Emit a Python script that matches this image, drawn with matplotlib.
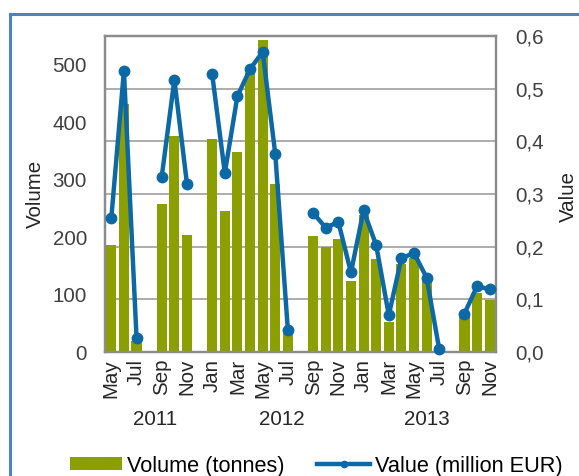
import numpy as np
import matplotlib
matplotlib.use("Agg")
from matplotlib import pyplot as plt
from matplotlib.patches import Rectangle
from matplotlib.ticker import FuncFormatter

plt.rcParams['font.family'] = ['Liberation Sans', 'DejaVu Sans']

months = ["May", "Jun", "Jul", "Aug", "Sep", "Oct", "Nov", "Dec",
          "Jan", "Feb", "Mar", "Apr", "May", "Jun", "Jul", "Aug", "Sep", "Oct", "Nov", "Dec",
          "Jan", "Feb", "Mar", "Apr", "May", "Jun", "Jul", "Aug", "Sep", "Oct", "Nov"]
years = ["2011", "2012", "2013"]
year_start = [0, 8, 20]
year_end = [7, 19, 30]

volume = [186, 432, 20, np.nan, 257, 376, 203, np.nan,
          371, 246, 348, 485, 543, 293, 33, np.nan, 202, 183, 196, 123,
          238, 161, 52, 154, 163, 131, np.nan, np.nan, 64, 102, 91]
value = [0.254, 0.534, 0.027, np.nan, 0.333, 0.517, 0.319, np.nan,
         0.527, 0.340, 0.486, 0.537, 0.570, 0.376, 0.041, np.nan, 0.264, 0.236, 0.247, 0.151,
         0.269, 0.203, 0.070, 0.178, 0.188, 0.141, 0.005, np.nan, 0.073, 0.125, 0.119]

green = "#8ba000"
blue = "#0d68a6"
grey = "#8c8c8c"
fs = 14.8

fig = plt.figure(figsize=[5.79, 4.76], dpi=100)
fig.patches.append(Rectangle((10 / 579, -0.1), 1.2, 1 - 14 / 476 + 0.1, transform=fig.transFigure,
                             fill=False, edgecolor="#4f81bd", linewidth=2.2))

ax = fig.add_axes([105 / 579, 1 - 352 / 476, 391 / 579, 316 / 476])
ax2 = ax.twinx()

x = np.arange(len(months))
vmax, valmax = 550, 0.6

# gridlines follow the right-hand axis, but sit behind the bars
for t in np.arange(0.1, 0.6, 0.1):
    ax.axhline(t * vmax / valmax, color="#a6a6a6", linewidth=1.3, zorder=0)

ax.bar(x, volume, width=0.8, color=green, zorder=2, label="Volume (tonnes)")
ax2.plot(x, value, color=blue, linewidth=3.2, marker="o", markersize=7.5,
         clip_on=False, zorder=3, label="Value (million EUR)")

ax.set_xlim(-0.5, len(months) - 0.5)
ax.set_ylim(0, vmax)
ax2.set_ylim(0, valmax)
ax.set_yticks([0, 100, 200, 300, 400, 500])
ax2.set_yticks(np.arange(0, 0.61, 0.1))
ax2.yaxis.set_major_formatter(FuncFormatter(lambda v, p: f"{v:.1f}".replace(".", ",")))

ax.set_xticks(x[::2])
ax.set_xticklabels(months[::2], rotation=90, fontsize=fs)
ax.tick_params(axis='x', length=0, pad=5, colors="#262626")
ax.tick_params(axis='y', length=0, pad=13, labelsize=fs, colors="#404040")
ax2.tick_params(axis='y', length=0, pad=14, labelsize=fs, colors="#404040")

for a in (ax, ax2):
    for s in a.spines.values():
        s.set_color(grey)
        s.set_linewidth(1.6)

fig.text(35 / 579, 1 - 194 / 476, "Volume", rotation=90, ha="center", va="center",
         fontsize=fs, color="#262626")
fig.text(568 / 579, 1 - 197 / 476, "Value", rotation=90, ha="center", va="center",
         fontsize=fs, color="#262626")

for yr, s, e in zip(years, year_start, year_end):
    ax.text((s + e) / 2, -0.215, yr, transform=ax.get_xaxis_transform(),
            ha="center", va="center", fontsize=fs, color="#262626")

h1, l1 = ax.get_legend_handles_labels()
h2, l2 = ax2.get_legend_handles_labels()
fig.legend(h1 + h2, l1 + l2, loc="center", bbox_to_anchor=(0.546, 0.021), ncol=2,
           frameon=False, fontsize=15.7, handlelength=2.4, handleheight=0.55,
           handletextpad=0.22, columnspacing=1.5, markerscale=0.6, borderpad=0)

plt.savefig("out.png", dpi=100)
